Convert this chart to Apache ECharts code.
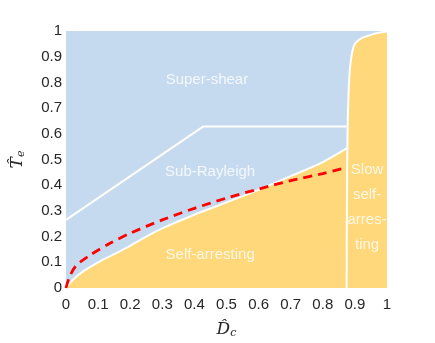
<!DOCTYPE html>
<html>
<head>
<meta charset="utf-8">
<script src="https://cdn.jsdelivr.net/npm/echarts@6/dist/echarts.min.js"></script>
<style>
  html, body { margin: 0; padding: 0; background: #fff; }
  #main { width: 435px; height: 343px; }
</style>
</head>
<body>
<div id="main"></div>
<script>
// boundary between sub-Rayleigh and self-arresting
var dcLow = [0, 0.02, 0.05, 0.1, 0.15, 0.2, 0.25, 0.3, 0.4, 0.5, 0.6, 0.7, 0.8, 0.874];
var tcLow = [0, 0.03, 0.062, 0.1, 0.132, 0.164, 0.2, 0.232, 0.285, 0.333, 0.382, 0.435, 0.49, 0.543];
// slow self-arresting boundary
var dcRight = [0.874, 0.875, 0.877, 0.88, 0.885, 0.892, 0.9, 0.915, 0.93, 0.95, 0.97, 1.0];
var tcRight = [0, 0.3, 0.6, 0.75, 0.86, 0.92, 0.95, 0.968, 0.977, 0.985, 0.992, 0.998];
// super-shear / sub-Rayleigh boundary
var dcUpper = [0, 0.427, 0.874];
var tcUpper = [0.265, 0.628, 0.628];
// red dashed curve
var dcRed = [0, 0.01, 0.03, 0.075, 0.14, 0.2, 0.3, 0.4, 0.5, 0.6, 0.7, 0.8, 0.865];
var tcRed = [0, 0.04, 0.085, 0.128, 0.176, 0.213, 0.265, 0.31, 0.35, 0.385, 0.418, 0.445, 0.466];
// region labels
var regionNames = ['Super-shear', 'Sub-Rayleigh', 'Self-arresting', 'Slow\nself-\narres-\nting'];
var regionDc = [0.439, 0.449, 0.449, 0.938];
var regionTc = [0.809, 0.451, 0.128, 0.315];

function pairs(xs, ys) {
    var out = [];
    for (var i = 0; i < xs.length; i++) out.push([xs[i], ys[i]]);
    return out;
}

var blue = '#c6daef';
var yellow = '#fed87a';
var tickFont = { color: '#262626', fontSize: 15, fontFamily: 'Liberation Sans' };
var nameRich = {
    a: { fontFamily: 'DejaVu Serif', fontStyle: 'italic', fontSize: 17, color: '#262626' },
    b: { fontFamily: 'DejaVu Serif', fontStyle: 'italic', fontSize: 11, color: '#262626', padding: [8, 0, 0, 0] }
};

var myChart = echarts.init(document.getElementById('main'));
var option = {
    animation: false,
    grid: {
        left: 66, right: 48, top: 31, bottom: 55,
        outerBoundsMode: 'none', containLabel: false,
        show: true, backgroundColor: blue, borderWidth: 0
    },
    xAxis: {
        type: 'value', min: 0, max: 1, interval: 0.1,
        axisLine: { show: false }, axisTick: { show: false }, splitLine: { show: false },
        axisLabel: Object.assign({ margin: 9 }, tickFont),
        name: '{a|D̂}{b|c}', nameLocation: 'middle', nameGap: 32,
        nameTextStyle: { rich: nameRich }
    },
    yAxis: {
        type: 'value', min: 0, max: 1, interval: 0.1,
        axisLine: { show: false }, axisTick: { show: false }, splitLine: { show: false },
        axisLabel: Object.assign({ margin: 4 }, tickFont),
        name: '{a|T̂}{b|e}', nameLocation: 'middle', nameGap: 39, nameRotate: 90,
        nameTextStyle: { rich: nameRich }
    },
    series: [
        {
            type: 'line', data: pairs(dcLow, tcLow), showSymbol: false, smooth: 0.3,
            lineStyle: { color: '#fff', width: 2 },
            areaStyle: { color: yellow, opacity: 1 }
        },
        {
            type: 'line', data: pairs(dcRight, tcRight), showSymbol: false, smooth: 0.2,
            lineStyle: { color: '#fff', width: 2 },
            areaStyle: { color: yellow, opacity: 1 }
        },
        {
            type: 'line', data: pairs(dcUpper, tcUpper), showSymbol: false,
            lineStyle: { color: '#fff', width: 2 }
        },
        {
            type: 'line', data: pairs(dcRed, tcRed), showSymbol: false, smooth: 0.3, z: 4,
            lineStyle: { color: '#f00', width: 2.8, type: [9, 6] }
        },
        {
            type: 'scatter', symbolSize: 0, z: 5,
            data: pairs(regionDc, regionTc).map(function (p, i) {
                return { value: p, name: regionNames[i] };
            }),
            label: {
                show: true, position: 'inside', formatter: '{b}',
                color: '#fff', fontSize: 15, fontFamily: 'Liberation Sans', lineHeight: 25
            }
        }
    ]
};
myChart.setOption(option);
</script>
</body>
</html>
